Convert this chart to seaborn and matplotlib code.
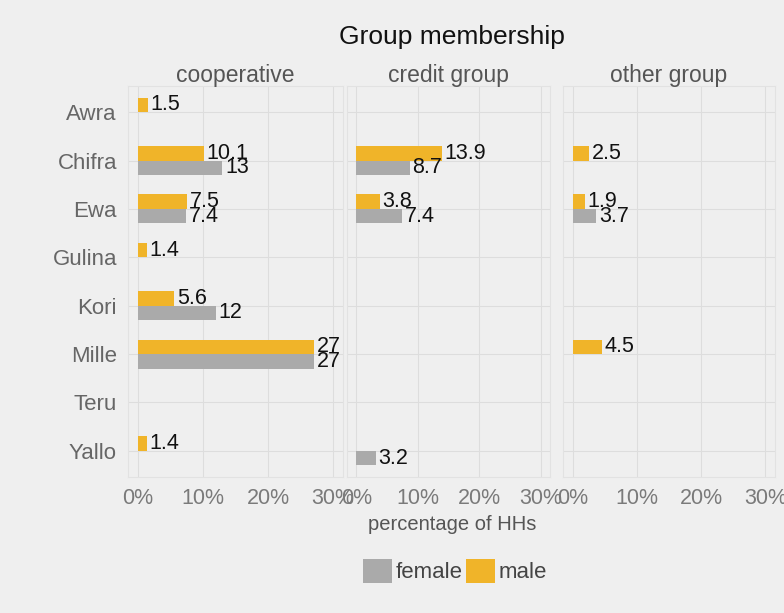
import matplotlib
matplotlib.use("Agg")
import matplotlib.pyplot as plt
from matplotlib.patches import Patch
import seaborn as sns
import pandas as pd

# --- data -------------------------------------------------------------
districts = ["Awra", "Chifra", "Ewa", "Gulina", "Kori", "Mille", "Teru", "Yallo"]
groups = ["cooperative", "credit group", "other group"]
sexes = ["male", "female"]

coop_male = {"Awra": 1.5, "Chifra": 10.1, "Ewa": 7.5, "Gulina": 1.4,
             "Kori": 5.6, "Mille": 27, "Yallo": 1.4}
coop_female = {"Chifra": 13, "Ewa": 7.4, "Kori": 12, "Mille": 27}
credit_male = {"Chifra": 13.9, "Ewa": 3.8}
credit_female = {"Chifra": 8.7, "Ewa": 7.4, "Yallo": 3.2}
other_male = {"Chifra": 2.5, "Ewa": 1.9, "Mille": 4.5}
other_female = {"Ewa": 3.7}

x_ticks = [0, 10, 20, 30]
x_tick_labels = ["0%", "10%", "20%", "30%"]

series = {
    "cooperative": {"male": coop_male, "female": coop_female},
    "credit group": {"male": credit_male, "female": credit_female},
    "other group": {"male": other_male, "female": other_female},
}

rows = []
for g, by_sex in series.items():
    for s, vals in by_sex.items():
        for d, v in vals.items():
            rows.append({"group": g, "sex": s, "district": d, "pct": v})
df = pd.DataFrame(rows)

# --- style -------------------------------------------------------------
BG = "#efefef"
GRID = "#dddddd"
palette = {"male": "#f0b429", "female": "#aaaaaa"}

sns.set_theme(style="white")
plt.rcParams["font.family"] = ["Liberation Sans", "DejaVu Sans"]

W, H = 784, 613
fig = plt.figure(figsize=(W / 100, H / 100), dpi=100, facecolor=BG)

# facet frames in pixels (left, right)
panels_px = [(128, 343), (347, 550), (563, 775)]
top_px, bottom_px = 86, 477


def rect(l, r, t, b):
    return [l / W, 1 - b / H, (r - l) / W, (b - t) / H]


for i, (g, (l, r)) in enumerate(zip(groups, panels_px)):
    ax = fig.add_axes(rect(l, r, top_px, bottom_px))
    ax.set_facecolor(BG)
    sub = df[df["group"] == g]
    sns.barplot(data=sub, y="district", x="pct", hue="sex",
                order=districts, hue_order=sexes, palette=palette,
                orient="h", dodge=True, width=0.6, saturation=1,
                errorbar=None, legend=False, linewidth=0, ax=ax)
    for cont in ax.containers:
        ax.bar_label(cont, fmt="{:g}", padding=2, fontsize=15.5,
                     color="#111111")
    ax.set_xlim(-1.5, 31.5)
    ax.set_ylim(len(districts) - 1 + 0.54, -0.54)
    ax.set_xticks(x_ticks)
    ax.set_xticklabels(x_tick_labels)
    ax.tick_params(axis="x", length=0, labelsize=15.5, colors="#7a7a7a", pad=8)
    ax.tick_params(axis="y", length=0, labelsize=16, colors="#666666", pad=8)
    if i > 0:
        ax.set_yticklabels([])
    ax.set_xlabel("")
    ax.set_ylabel("")
    ax.grid(True, color=GRID, linewidth=0.8)
    ax.set_axisbelow(True)
    for sp in ax.spines.values():
        sp.set_color("#e2e2e2")
        sp.set_linewidth(0.8)
    ax.set_title(g, fontsize=16.5, color="#555555", pad=3)

fig.text(452 / W, 1 - 37 / H, "Group membership", ha="center", va="center",
         fontsize=19, color="#111111")
fig.text(452 / W, 1 - 525 / H, "percentage of HHs", ha="center", va="center",
         fontsize=14.5, color="#555555")

handles = [Patch(facecolor=palette["female"], edgecolor="none", label="female"),
           Patch(facecolor=palette["male"], edgecolor="none", label="male")]
fig.legend(handles=handles, loc="center", bbox_to_anchor=(455 / W, 1 - 571 / H),
           ncol=2, frameon=False, fontsize=16, handlelength=1.3,
           handleheight=1.3, handletextpad=0.15, columnspacing=0.15,
           labelcolor="#444444")

fig.savefig("out.png", dpi=100, facecolor=BG)
